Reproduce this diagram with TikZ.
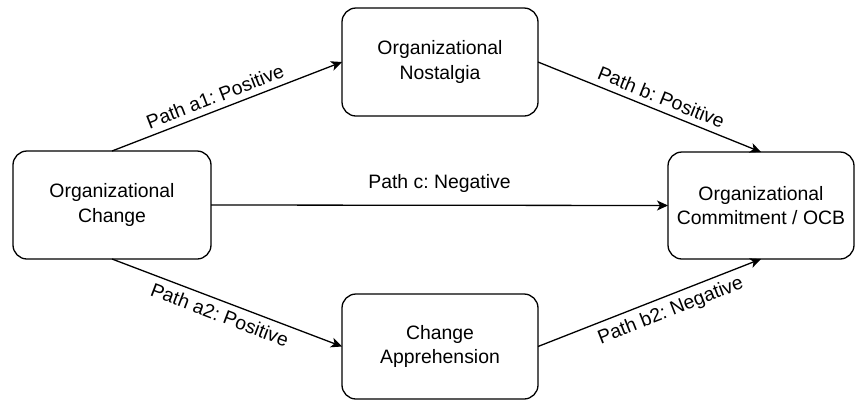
\documentclass[tikz,border=0pt]{standalone}
\usepackage{fontspec}
\setmainfont{Liberation Sans}
\usetikzlibrary{arrows.meta}
\begin{document}
\frenchspacing
\begin{tikzpicture}[x=1pt,y=-1pt,
  box/.style={draw, line width=1.3pt, rounded corners=14pt, inner sep=0pt, outer sep=0pt,
    align=center, font=\fontsize{19.4}{24.5}\selectfont},
  conn/.style={line width=1.3pt, -{Stealth[length=11pt,width=10pt,inset=3pt]}},
  lab/.style={font=\fontsize{19.4}{24}\selectfont, inner sep=6pt}]
\useasboundingbox (0,0) rectangle (855,400);
\node[box, minimum width=198pt, minimum height=108pt] (chg) at (112,205) {Organizational\\Change};
\node[box, minimum width=196pt, minimum height=108pt] (nos) at (440,62) {Organizational\\Nostalgia};
\node[box, minimum width=196pt, minimum height=105pt] (app) at (440,346.5) {Change\\Apprehension};
\node[box, minimum width=186pt, minimum height=107pt] (ocb) at (761,205.5) {Organizational\\Commitment / OCB};
\draw[conn] (chg.north) -- node[lab, sloped, above, pos=0.47] {Path a1: Positive} (nos.west);
\draw[conn] (nos.east) -- node[lab, sloped, above, pos=0.53] {Path b: Positive} (ocb.north);
\draw[conn] (chg.east) -- node[lab, above, inner sep=12pt] {Path c: Negative} (ocb.west);
\draw[conn] (chg.south) -- node[lab, sloped, below, pos=0.49] {Path a2: Positive} (app.west);
\draw[conn] (app.east) -- node[lab, sloped, below, pos=0.57] {Path b2: Negative} (ocb.south);
\end{tikzpicture}
\end{document}
